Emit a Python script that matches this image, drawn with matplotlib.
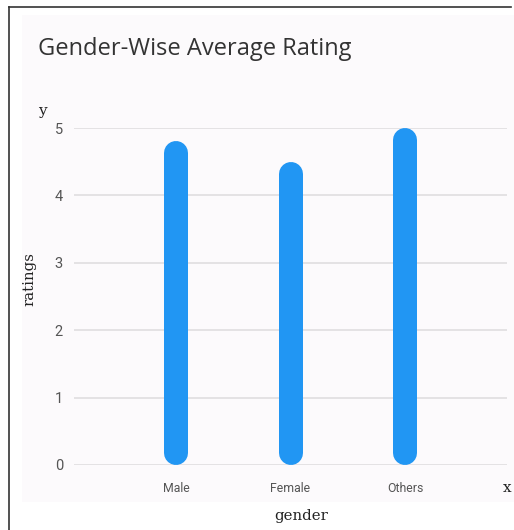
import matplotlib.pyplot as plt
from matplotlib.patches import Rectangle
from matplotlib.lines import Line2D

# --- data ---
genders = ['Male', 'Female', 'Others']
ratings = [4.8, 4.5, 5.0]
y_ticks = [0, 1, 2, 3, 4, 5]

W, H = 514, 530
fig = plt.figure(figsize=(W / 100, H / 100), dpi=100)
fig.patch.set_facecolor('white')

# card background + left/top frame lines
fig.add_artist(Rectangle((22 / W, 1 - 502 / H), 1, (502 - 15) / H,
                         transform=fig.transFigure, facecolor='#fcfafc',
                         edgecolor='none', zorder=0))
fig.add_artist(Line2D([9 / W, 9 / W], [0, 1 - 7 / H], transform=fig.transFigure,
                      color='#333333', lw=1.2))
fig.add_artist(Line2D([9 / W, 511 / W], [1 - 7 / H, 1 - 7 / H], transform=fig.transFigure,
                      color='#333333', lw=1.2))

left, right, top, bottom = 74 / W, 507 / W, 1 - 128 / H, 1 - 465 / H
ax = fig.add_axes([left, bottom, right - left, top - bottom])
ax.set_facecolor('none')

x = list(range(len(genders)))
ax.set_xlim(-0.89, 2.89)
ax.set_ylim(0, 5)

# rounded bars: lines with round caps, shortened by the cap radius
bar_px = 24
r = (bar_px / 2) * 5 / (465 - 128)  # cap radius in data units
for xi, v in zip(x, ratings):
    ax.plot([xi, xi], [r, v - r], color='#2196f3', lw=bar_px * 0.72,
            solid_capstyle='round', clip_on=False, zorder=3)

ax.set_yticks(y_ticks)
ax.set_xticks(x)
ax.set_xticklabels(genders, fontfamily='Roboto', fontsize=8.8, color='#555555')
for lab in ax.get_yticklabels():
    lab.set_fontfamily('Roboto')
ax.tick_params(axis='y', labelsize=10.5, labelcolor='#555555', length=0, pad=8)
ax.tick_params(axis='x', length=0, pad=12)
ax.grid(axis='y', color='#e2e0e2', lw=1.3)
ax.set_axisbelow(True)
for s in ax.spines.values():
    s.set_visible(False)

fig.text(38 / W, 1 - 55 / H, 'Gender-Wise Average Rating', fontfamily='Open Sans',
         fontsize=17, color='#333333', va='baseline', ha='left')
fig.text(301 / W, 1 - 520 / H, 'gender', fontfamily='DejaVu Serif',
         fontsize=10.7, color='#222222', ha='center', va='baseline')
fig.text(29 / W, 1 - 279 / H, 'ratings', fontfamily='DejaVu Serif',
         fontsize=10.7, color='#222222', ha='center', va='center', rotation=90)
fig.text(507 / W, 1 - 492 / H, 'x', fontfamily='DejaVu Serif',
         fontsize=11, color='#222222', ha='center', va='baseline')
fig.text(42 / W, 1 - 115 / H, 'y', fontfamily='DejaVu Serif',
         fontsize=11, color='#222222', ha='center', va='baseline')

fig.savefig('out.png', dpi=100)
